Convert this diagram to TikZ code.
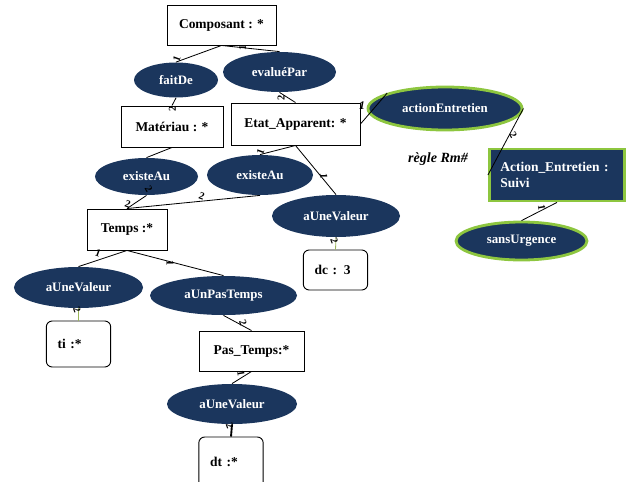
\documentclass[tikz,border=0pt]{standalone}
\usepackage{fontspec}
\setmainfont{Liberation Serif}
\usepackage{xcolor}
\usepackage{tikz}
\usetikzlibrary{shapes.geometric,positioning}
\definecolor{navy}{HTML}{1B365D}
\definecolor{leaf}{HTML}{8DC63F}
\definecolor{olive}{HTML}{9AB55A}

\begin{document}
\begin{tikzpicture}[x=0.03cm, y=-0.03cm, line width=0.7pt,
    box/.style={draw, line width=0.8pt, inner sep=0pt, font=\fontsize{11.5}{13.5}\selectfont\bfseries},
    rel/.style={ellipse, fill=navy, inner sep=0pt, text=white, font=\fontsize{11}{12}\selectfont\bfseries},
    relg/.style={rel, draw=leaf, line width=2.4pt},
    val/.style={box, rounded corners=5pt, inner xsep=0.34cm, text width=1.25cm, align=left},
    lbl/.style={inner sep=1pt, font=\fontsize{9}{10}\selectfont\bfseries}]
				\useasboundingbox (0,0) rectangle (629,481);

				% concepts
				\node[box, minimum width=3.27cm, minimum height=1.2cm] (comp) at (221.5,25) {Composant : *};
				\node[box, minimum width=3.06cm, minimum height=1.23cm] (mat) at (172,126.5) {Matériau : *};
				\node[box, minimum width=3.87cm, minimum height=1.26cm] (etat) at (295.5,124) {Etat\_Apparent: *};
				\node[box, minimum width=2.4cm, minimum height=1.23cm] (temps) at (127,229.5) {Temps :*};
				\node[box, minimum width=3.15cm, minimum height=1.2cm] (pt) at (251.5,351) {Pas\_Temps:*};
				\node[box, fill=navy, draw=leaf, line width=2.4pt, text=white, inner xsep=0.33cm, text width=3.4cm, align=left, minimum height=1.56cm] (ae) at (557,175) {Action\_Entretien :\\Suivi};

				\node[val, minimum height=1.38cm] (ti) at (78.5,344) {ti :*};
				\node[val, minimum height=1.2cm] (dc) at (335.5,270) {dc : 3};
				\node[val, minimum height=1.5cm] (dt) at (231,462) {dt :*};

				% relations
				\node[rel, minimum width=2.52cm, minimum height=1.05cm] (faitde) at (176,80) {faitDe};
				\node[rel, minimum width=3.39cm, minimum height=1.2cm] (evalue) at (279.5,72) {evaluéPar};
				\node[relg, minimum width=4.62cm, minimum height=1.29cm] (action) at (445,108.5) {actionEntretien};
				\node[relg, minimum width=3.93cm, minimum height=1.14cm] (sans) at (521.5,241) {sansUrgence};
				\node[rel, minimum width=3.09cm, minimum height=1.11cm] (existe1) at (146.5,176.5) {existeAu};
				\node[rel, minimum width=3.18cm, minimum height=1.2cm] (existe2) at (260,175) {existeAu};
				\node[rel, minimum width=3.84cm, minimum height=1.26cm] (auv1) at (336,216) {aUneValeur};
				\node[rel, minimum width=3.87cm, minimum height=1.23cm] (auv2) at (78.5,287.5) {aUneValeur};
				\node[rel, minimum width=4.41cm, minimum height=1.17cm] (apt) at (223.5,295.5) {aUnPasTemps};
				\node[rel, minimum width=3.9cm, minimum height=1.2cm] (auv3) at (232,404) {aUneValeur};

				\node[font=\fontsize{12}{14}\selectfont\bfseries\itshape] (regle) at (438,159) {règle Rm\#};

				% arcs
				\draw (comp.south) -- (faitde.north) node[lbl, pos=0.88, above, rotate=70] (n1) {1};
				\draw (comp.south) -- (evalue.north) node[lbl, pos=0.45, above, rotate=90] (n2) {1};
				\draw (faitde.south) -- (mat.north) node[lbl, pos=0.9, left, rotate=90] (n3) {2};
				\draw (evalue.south) -- (etat.north) node[lbl, pos=0.1, left, rotate=90] (n4) {2};
				\draw (etat.east) -- (action.165) node[lbl, pos=0.6, left=0.3cm, font=\fontsize{10}{11}\selectfont\bfseries\itshape] (n5) {1};
				\draw (action.east) -- (ae.west) node[lbl, pos=0.35, right, rotate=-60] (n6) {2};
				\draw (ae.south) -- (sans.north) node[lbl, pos=0.55, above left, rotate=-80] (n7) {1};
				\draw (mat.south) -- (existe1.north);
				\draw (etat.south) -- (existe2.north) node[lbl, pos=0.85, above, rotate=70] (n8) {1};
				\draw (etat.south) -- (auv1.north) node[lbl, pos=0.7, left, rotate=-90] (n9) {1};
				\draw (existe1.south) -- (temps.north) node[lbl, pos=0.0, above left, rotate=-60] (n10) {2}
				                                       node[lbl, pos=0.75, left, rotate=-20] (n11) {2};
				\draw (existe2.south) -- (temps.north) node[lbl, pos=0.45, above, rotate=-20] (n12) {2};
				\draw[olive] (auv1.south) -- (dc.north) node[lbl, black, pos=0.6, left, rotate=-70] (n13) {2};
				\draw (temps.south) -- (auv2.north) node[lbl, pos=0.55, above left, rotate=-20] (n14) {1};
				\draw (temps.south) -- (apt.north) node[lbl, pos=0.5, below, rotate=-90] (n15) {1};
				\draw[olive] (auv2.south) -- (ti.north) node[lbl, black, pos=0.4, left, rotate=-70] (n16) {2};
				\draw (apt.south) -- (pt.north) node[lbl, pos=0.75, left, rotate=-70] (n17) {2};
				\draw (pt.south) -- (auv3.north) node[lbl, pos=0.5, left, rotate=-80] (n18) {1};
				\draw[line width=1.6pt] (auv3.south) -- (dt.north) node[lbl, pos=0.5, left, rotate=-70] (n19) {2};

		\end{tikzpicture}
\end{document}
